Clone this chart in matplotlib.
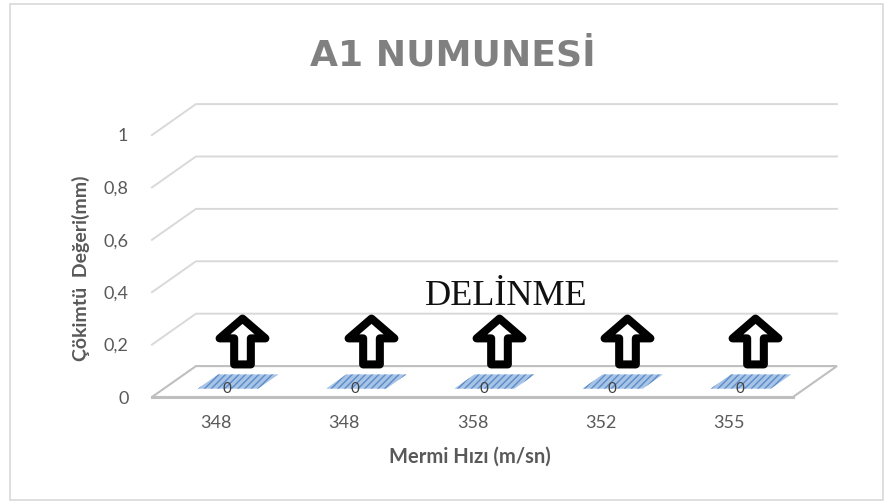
import numpy as np
import matplotlib.pyplot as plt
from matplotlib.patches import Polygon, Rectangle
from matplotlib.path import Path
from matplotlib.markers import MarkerStyle

plt.rcParams['font.family'] = ['Lato', 'DejaVu Sans']

# data
speeds = ['348', '348', '358', '352', '355']   # Mermi Hızı (m/sn)
cokme = [0, 0, 0, 0, 0]                         # Çökme değeri (mm)
y_ticks = [0, 0.2, 0.4, 0.6, 0.8, 1.0]
y_tick_labels = ['0', '0,2', '0,4', '0,6', '0,8', '1']

# oblique "3D" look: how far the back wall sits from the front plane (data units)
DX, DY = 0.343, 0.118
BAR_W = 0.47
BAR_D0, BAR_D1 = 0.27, 0.73

grid_col = '#d9d9d9'
floor_col = '#bfbfbf'
text_col = '#595959'


def project(x, v, d):
    # x = category position, v = value, d = depth (0 front, 1 back)
    return x + DX * d, v + DY * d


fig = plt.figure(figsize=(8.88, 5.04), dpi=100)
fig.patches.append(Rectangle((10 / 888, 4 / 504), 873 / 888, 496 / 504,
                             transform=fig.transFigure, fill=False,
                             edgecolor='#d9d9d9', linewidth=1.2))

ax = fig.add_axes([152 / 888, 107 / 504, 641 / 888, 262 / 504])
ax.set_xlim(-0.5, 4.5)
ax.set_ylim(0, 1)
ax.patch.set_visible(False)
for s in ax.spines.values():
    s.set_visible(False)

n = len(speeds)
left, right = -0.5, n - 0.5

# back wall + side wall gridlines
for v in y_ticks[1:]:
    xs, ys = zip(project(left, v, 0), project(left, v, 1), project(right, v, 1))
    ax.plot(xs, ys, color=grid_col, lw=1.4, clip_on=False, zorder=1)

# floor
floor = [project(left, 0, 0), project(right, 0, 0), project(right, 0, 1), project(left, 0, 1)]
ax.add_patch(Polygon(floor, closed=True, facecolor='white', edgecolor=floor_col,
                     lw=1.5, clip_on=False, zorder=2))
fx, fy = zip(project(left, 0, 0), project(right, 0, 0))
ax.plot(fx, fy, color=floor_col, lw=2.2, clip_on=False, zorder=3)

# bars (all zero, so only the top face shows)
for i, val in enumerate(cokme):
    top = [project(i - BAR_W / 2, val, BAR_D0), project(i + BAR_W / 2, val, BAR_D0),
           project(i + BAR_W / 2, val, BAR_D1), project(i - BAR_W / 2, val, BAR_D1)]
    front = [project(i - BAR_W / 2, 0, BAR_D0), project(i + BAR_W / 2, 0, BAR_D0),
             project(i + BAR_W / 2, val, BAR_D0), project(i - BAR_W / 2, val, BAR_D0)]
    for face in (front, top):
        ax.add_patch(Polygon(face, closed=True, facecolor='#a7c3e6', edgecolor='#5b8cc8',
                             hatch='/////', lw=0, clip_on=False, zorder=4))
    lx, ly = project(i, val, 0.25)
    ax.text(lx, ly, str(val).replace('.', ','), ha='center', va='center',
            fontsize=11, color='#404040', zorder=5)

# "DELİNME" arrows above every bar
arrow_verts = [(0, 22), (22, 3), (8, 3), (8, -22), (-8, -22), (-8, 3), (-22, 3), (0, 22)]
arrow_codes = [Path.MOVETO] + [Path.LINETO] * 6 + [Path.CLOSEPOLY]
arrow = MarkerStyle(Path(arrow_verts, arrow_codes), joinstyle='round')
arrow_level = 0.143
ax_x, ax_y = zip(*[project(i, arrow_level, 0.6) for i in range(n)])
ax.plot(ax_x, ax_y, linestyle='none', marker=arrow, markersize=33,
        markerfacecolor='white', markeredgecolor='black', markeredgewidth=5.8,
        clip_on=False, zorder=6)

ax.text(0.552, 0.351, 'DELİNME', transform=ax.transAxes, ha='center', va='baseline',
        fontsize=26, family=['Liberation Serif', 'DejaVu Serif'], color='#111111')

# axes text
ax.set_xticks(range(n), speeds)
ax.set_yticks(y_ticks, y_tick_labels)
ax.tick_params(axis='both', length=0, labelsize=13, labelcolor=text_col)
ax.tick_params(axis='y', pad=17)
ax.tick_params(axis='x', pad=13)

ax.set_xlabel('Mermi Hızı (m/sn)', fontsize=14.5, fontweight='bold', color=text_col,
              va='center')
ax.xaxis.set_label_coords(0.496, -0.229)
ax.set_ylabel('Çökimtü  Değeri(mm)', fontsize=14, fontweight='bold', color=text_col,
              va='center')
ax.yaxis.set_label_coords(-0.111, 0.49)

fig.text(453 / 888, (504 - 66) / 504, 'A1 NUMUNESİ', ha='center', va='baseline',
         fontsize=26, fontweight='bold', color='#808080', family=['DejaVu Sans'])

fig.savefig('out.png', dpi=100, facecolor='white')
